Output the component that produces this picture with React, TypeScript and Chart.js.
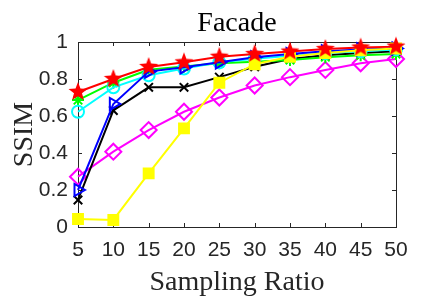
import React, { useEffect, useRef } from 'react';
import { Chart, registerables } from 'chart.js';
Chart.register(...registerables);

const samplingRatios = ['5', '10', '15', '20', '25', '30', '35', '40', '45', '50'];
const yTicks = [0, 0.2, 0.4, 0.6, 0.8, 1];
const chartTitle = 'Facade';
const redStar = [0.73, 0.8, 0.865, 0.89, 0.92, 0.935, 0.948, 0.962, 0.97, 0.975];
const greenSeries = [0.686, 0.78, 0.85, 0.867, 0.885, 0.893, 0.903, 0.918, 0.928, 0.935];
const cyanCircle = [0.623, 0.755, 0.82, 0.857, 0.89, 0.91, 0.925, 0.94, 0.95, 0.96];
const blueTriangle = [0.2, 0.665, 0.84, 0.863, 0.89, 0.918, 0.935, 0.95, 0.96, 0.965];
const blackCross = [0.146, 0.63, 0.755, 0.755, 0.81, 0.866, 0.908, 0.928, 0.94, 0.95];
const magentaDiamond = [0.272, 0.407, 0.524, 0.623, 0.7, 0.765, 0.81, 0.849, 0.885, 0.908];
const yellowSquare = [0.043, 0.038, 0.29, 0.533, 0.78, 0.88, 0.92, 0.94, 0.955, 0.965];

function makeStar(color: string, outer: number, inner: number) {
  const size = Math.ceil(outer * 2 + 2);
  const c = document.createElement('canvas');
  c.width = size;
  c.height = size;
  const ctx = c.getContext('2d')!;
  const cx = size / 2;
  const cy = size / 2;
  ctx.beginPath();
  for (let i = 0; i < 10; i++) {
    const r = i % 2 === 0 ? outer : inner;
    const a = -Math.PI / 2 + (i * Math.PI) / 5;
    const px = cx + r * Math.cos(a);
    const py = cy + r * Math.sin(a);
    if (i === 0) ctx.moveTo(px, py);
    else ctx.lineTo(px, py);
  }
  ctx.closePath();
  ctx.fillStyle = color;
  ctx.fill();
  return c;
}

const boxPlugin = {
  id: 'matlabBox',
  beforeDatasetsDraw(chart: any) {
    const { ctx, chartArea } = chart;
    const { left, right, top, bottom } = chartArea;
    const xs = chart.scales.x;
    const ys = chart.scales.y;
    ctx.save();
    ctx.strokeStyle = '#262626';
    ctx.lineWidth = 1;
    ctx.beginPath();
    ctx.rect(Math.round(left) + 0.5, Math.round(top) + 0.5, Math.round(right - left), Math.round(bottom - top));
    ctx.stroke();
    const tl = 4;
    ctx.beginPath();
    xs.ticks.forEach((_t: any, i: number) => {
      const px = Math.round(xs.getPixelForTick(i)) + 0.5;
      ctx.moveTo(px, bottom);
      ctx.lineTo(px, bottom - tl);
      ctx.moveTo(px, top);
      ctx.lineTo(px, top + tl);
    });
    ys.ticks.forEach((_t: any, i: number) => {
      const py = Math.round(ys.getPixelForTick(i)) + 0.5;
      ctx.moveTo(left, py);
      ctx.lineTo(left + tl, py);
      ctx.moveTo(right, py);
      ctx.lineTo(right - tl, py);
    });
    ctx.stroke();
    // title centred over the plot area
    ctx.fillStyle = '#000000';
    ctx.font = '28px "Liberation Serif", "Times New Roman", serif';
    ctx.textAlign = 'center';
    ctx.textBaseline = 'alphabetic';
    ctx.fillText(chartTitle, (left + right) / 2, top - 11);
    ctx.restore();
  },
};

export default function App() {
  const ref = useRef<HTMLCanvasElement>(null);
  useEffect(() => {
    const star = makeStar('#ff0000', 10, 4.2);
    const common = { borderWidth: 2, clip: false as any, pointBorderWidth: 2 };
    const chart = new Chart(ref.current!, {
      type: 'line',
      data: {
        labels: samplingRatios,
        datasets: [
          { ...common, data: redStar, borderColor: '#ff0000', backgroundColor: '#ff0000', pointStyle: star as any, pointRadius: 10 },
          { ...common, data: yellowSquare, borderColor: '#ffff00', backgroundColor: '#ffff00', pointBackgroundColor: '#ffff00', pointStyle: 'rect', pointRadius: 7 },
          { ...common, data: blueTriangle, borderColor: '#0000ff', pointBackgroundColor: 'rgba(0,0,0,0)', pointStyle: 'triangle', pointRotation: 90, pointRadius: 7 },
          { ...common, data: cyanCircle, borderColor: '#00ffff', pointBackgroundColor: 'rgba(0,0,0,0)', pointStyle: 'circle', pointRadius: 6 },
          { ...common, data: greenSeries, borderColor: '#00ff00', pointBackgroundColor: 'rgba(0,0,0,0)', pointStyle: 'star', pointRadius: 6 },
          { ...common, data: blackCross, borderColor: '#000000', pointBackgroundColor: 'rgba(0,0,0,0)', pointStyle: 'crossRot', pointRadius: 6 },
          { ...common, data: magentaDiamond, borderColor: '#ff00ff', pointBackgroundColor: 'rgba(0,0,0,0)', pointStyle: 'rectRot', pointRadius: 8 },
        ],
      },
      options: {
        animation: false,
        responsive: false,
        maintainAspectRatio: false,
        layout: { padding: { left: 0, right: 42, top: 42, bottom: 0 } },
        plugins: {
          legend: { display: false },
          tooltip: { enabled: false },
          title: { display: false },
        },
        scales: {
          x: {
            type: 'category',
            offset: false,
            grid: { display: true, drawOnChartArea: false, drawTicks: false },
            border: { display: true, color: '#262626' },
            ticks: {
              color: '#262626',
              padding: 13,
              maxRotation: 0,
              autoSkip: false,
              font: { family: '"Liberation Sans", Arial, sans-serif', size: 21, lineHeight: 1 },
            },
            title: {
              display: true,
              text: 'Sampling Ratio',
              color: '#262626',
              font: { family: '"Liberation Serif", "Times New Roman", serif', size: 28, lineHeight: 1 },
              padding: { top: 0, bottom: 0 },
            },
            afterFit: (s: any) => { s.height = 70; },
          },
          y: {
            min: 0,
            max: 1,
            afterBuildTicks: (s: any) => { s.ticks = yTicks.map((v) => ({ value: v })); },
            grid: { display: true, drawOnChartArea: false, drawTicks: false },
            border: { display: true, color: '#262626' },
            ticks: {
              color: '#262626',
              padding: 10,
              callback: (v: any) => String(Math.round(Number(v) * 10) / 10),
              font: { family: '"Liberation Sans", Arial, sans-serif', size: 21, lineHeight: 1 },
            },
            title: {
              display: true,
              text: 'SSIM',
              color: '#262626',
              font: { family: '"Liberation Serif", "Times New Roman", serif', size: 28, lineHeight: 1 },
              padding: { top: 11, bottom: 0 },
            },
            afterFit: (s: any) => { s.width = 78; },
          },
        },
      },
      plugins: [boxPlugin],
    });
    return () => chart.destroy();
  }, []);
  return (
    <div style={{ position: 'absolute', left: 0, top: 0, width: 438, height: 297, background: '#fff' }}>
      <canvas ref={ref} width={438} height={297} style={{ width: 438, height: 297 }} />
    </div>
  );
}
